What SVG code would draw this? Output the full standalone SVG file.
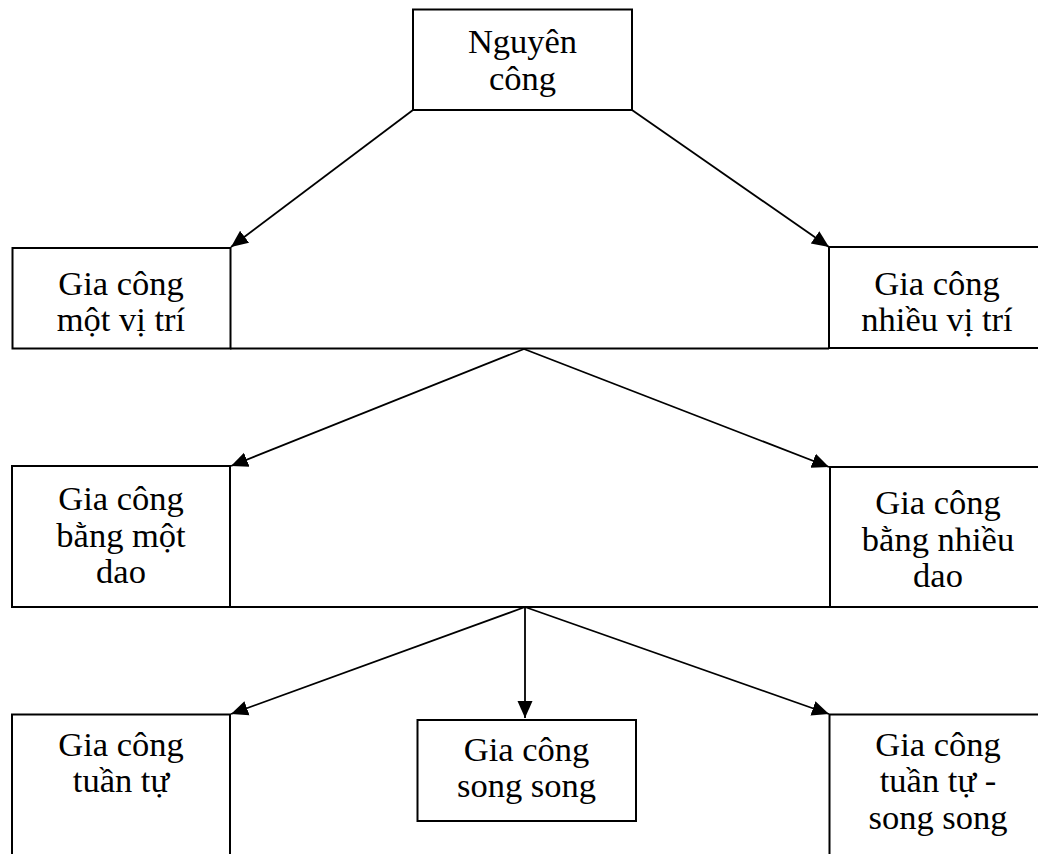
<svg xmlns="http://www.w3.org/2000/svg" width="1038" height="854" viewBox="0 0 1038 854">
<style>
.box{fill:#fff;stroke:#000;stroke-width:2}
.t{font-family:"Liberation Serif","Times New Roman",serif;font-size:34.5px;fill:#000;text-anchor:middle}
.c{stroke:#000;stroke-width:1.8;fill:none}
.a{marker-end:url(#ah)}
</style>
<defs>
<marker id="ah" markerUnits="userSpaceOnUse" markerWidth="18" markerHeight="18" viewBox="0 0 18 18" refX="17" refY="9" orient="auto">
<path d="M0,1.5 L17,9 L0,16.5 z" fill="#000"/>
</marker>
</defs>
<rect width="1038" height="854" fill="#fff"/>
<g id="connectors">
<line class="c a" x1="413" y1="110" x2="231" y2="247"/>
<line class="c a" x1="632" y1="110" x2="829" y2="247"/>
<line class="c" x1="230" y1="348.5" x2="829" y2="348.5"/>
<line class="c a" x1="524" y1="349" x2="231" y2="466"/>
<line class="c a" x1="524" y1="349" x2="829" y2="467"/>
<line class="c" x1="230" y1="607" x2="830" y2="607"/>
<line class="c a" x1="525" y1="607" x2="231" y2="714"/>
<line class="c a" x1="525" y1="607" x2="525" y2="718"/>
<line class="c a" x1="525" y1="607" x2="829" y2="714"/>
</g>
<g id="n-nguyen-cong">
<rect class="box" x="413" y="9.5" width="219" height="100.5"/>
<text class="t" x="522.5" y="53">Nguyên</text>
<text class="t" x="522.5" y="89.5">công</text>
</g>
<g id="n-mot-vi-tri">
<rect class="box" x="12.5" y="248" width="218" height="100.5"/>
<text class="t" x="121" y="294.5">Gia công</text>
<text class="t" x="121" y="330.5">một vị trí</text>
</g>
<g id="n-nhieu-vi-tri">
<rect class="box" x="829" y="247" width="220" height="101"/>
<text class="t" x="937" y="294.5">Gia công</text>
<text class="t" x="937" y="330.5">nhiều vị trí</text>
</g>
<g id="n-mot-dao">
<rect class="box" x="12" y="466" width="218" height="141"/>
<text class="t" x="121" y="510">Gia công</text>
<text class="t" x="121" y="546.5">bằng một</text>
<text class="t" x="121" y="582.5">dao</text>
</g>
<g id="n-nhieu-dao">
<rect class="box" x="830" y="467" width="220" height="140"/>
<text class="t" x="938" y="514">Gia công</text>
<text class="t" x="938" y="550.5">bằng nhiều</text>
<text class="t" x="938" y="587">dao</text>
</g>
<g id="n-tuan-tu">
<rect class="box" x="12" y="714.5" width="218" height="160"/>
<text class="t" x="121" y="756">Gia công</text>
<text class="t" x="121" y="792">tuần tự</text>
</g>
<g id="n-song-song">
<rect class="box" x="417.5" y="720" width="218.5" height="101"/>
<text class="t" x="526.5" y="760.5">Gia công</text>
<text class="t" x="526.5" y="796.5">song song</text>
</g>
<g id="n-tuan-tu-song-song">
<rect class="box" x="829.5" y="714.5" width="220" height="160"/>
<text class="t" x="938" y="755.5">Gia công</text>
<text class="t" x="938" y="792">tuần tự -</text>
<text class="t" x="938" y="828.5">song song</text>
</g>
</svg>
